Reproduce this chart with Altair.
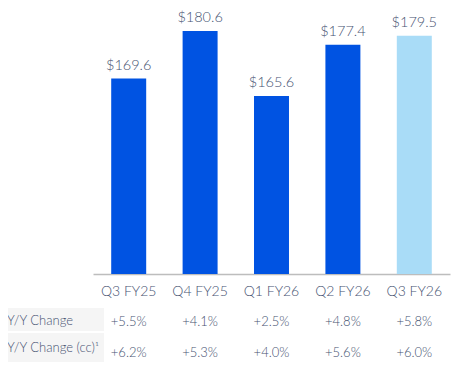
import altair as alt
import pandas as pd

quarters = ["Q3 FY25", "Q4 FY25", "Q1 FY26", "Q2 FY26", "Q3 FY26"]
revenue = [169.6, 180.6, 165.6, 177.4, 179.5]
rev_labels = ["$169.6", "$180.6", "$165.6", "$177.4", "$179.5"]
yoy = ["+5.5%", "+4.1%", "+2.5%", "+4.8%", "+5.8%"]
yoy_cc = ["+6.2%", "+5.3%", "+4.0%", "+5.6%", "+6.0%"]
current = [False, False, False, False, True]
row_names = ["Y/Y Change", "Y/Y Change (cc)\u00b9"]
y_floor = 124.5

df = pd.DataFrame({
    "quarter": quarters,
    "revenue": revenue,
    "label": rev_labels,
    "yoy": yoy,
    "yoy_cc": yoy_cc,
    "current": current,
})

FONT = "Lato"
WT = 300
TXT = "#475372"
W, H = 357, 266

x = alt.X(
    "quarter:N",
    sort=quarters,
    scale=alt.Scale(paddingInner=0.51, paddingOuter=0.255),
    axis=alt.Axis(
        title=None, labelAngle=0, ticks=False, domainColor="#bdbdbd",
        domainWidth=1.5, labelFontSize=14, labelColor=TXT, labelFont=FONT,
        labelFontWeight=WT, labelPadding=10, grid=False,
    ),
)
y = alt.Y(
    "revenue:Q",
    scale=alt.Scale(domain=[y_floor, 185.9], zero=False, nice=False),
    axis=None,
)

base = alt.Chart(df)

bars = base.mark_bar().encode(
    x=x,
    y=y,
    y2=alt.datum(y_floor),
    color=alt.Color(
        "current:N",
        scale=alt.Scale(domain=[False, True], range=["#0053e2", "#a9dcf7"]),
        legend=None,
    ),
)

bar_text = base.mark_text(
    baseline="bottom", dy=-6, fontSize=14.5, font=FONT, fontWeight=WT, color=TXT
).encode(x=x, y=y, text="label:N")

bg1 = base.mark_rect(color="#f5f5f5").encode(
    x=alt.value(-90), x2=alt.value(11), y=alt.value(300), y2=alt.value(323)
)
bg2 = base.mark_rect(color="#f5f5f5").encode(
    x=alt.value(-90), x2=alt.value(11), y=alt.value(325), y2=alt.value(354)
)

row1_lbl = base.mark_text(
    align="left", baseline="middle", fontSize=13, font=FONT, fontWeight=WT, color=TXT
).transform_filter(alt.datum.quarter == quarters[0]).encode(
    x=alt.value(-86), y=alt.value(312.5), text=alt.value(row_names[0])
)
row2_lbl = base.mark_text(
    align="left", baseline="middle", fontSize=13, font=FONT, fontWeight=WT, color=TXT
).transform_filter(alt.datum.quarter == quarters[0]).encode(
    x=alt.value(-86), y=alt.value(340), text=alt.value(row_names[1])
)

row1_vals = base.mark_text(
    baseline="middle", fontSize=13, font=FONT, fontWeight=WT, color=TXT
).encode(x=x, y=alt.value(314), text="yoy:N")
row2_vals = base.mark_text(
    baseline="middle", fontSize=13, font=FONT, fontWeight=WT, color=TXT
).encode(x=x, y=alt.value(345), text="yoy_cc:N")

chart = alt.layer(
    bg1, bg2, bars, bar_text, row1_lbl, row2_lbl, row1_vals, row2_vals
).properties(
    width=W,
    height=H,
    autosize=alt.AutoSizeParams(type="none"),
    padding={"left": 85, "top": 0, "right": 14, "bottom": 93},
).configure_view(stroke=None)

chart.save("out.html", embed_options={"renderer": "svg", "actions": False})
